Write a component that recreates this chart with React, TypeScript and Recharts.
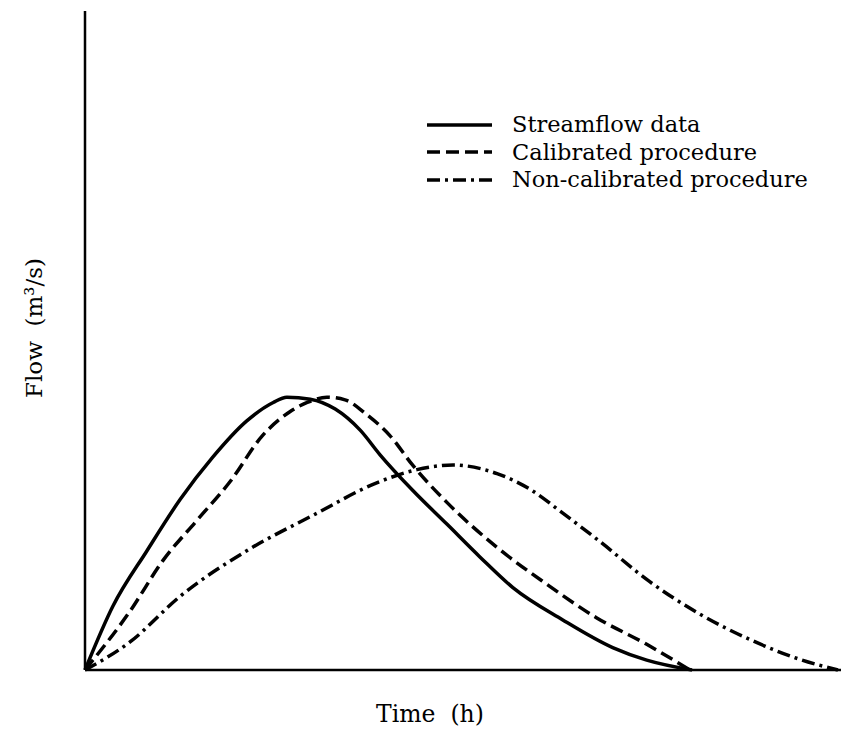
import React from 'react'
import { LineChart, Line, XAxis, YAxis } from 'recharts'

// time in % of axis length, flow in % of axis height
const streamflow = [
  { t: 0, q: 0 },
  { t: 3.7, q: 9.7 },
  { t: 8.2, q: 18.1 },
  { t: 12.6, q: 25.9 },
  { t: 16.9, q: 32.3 },
  { t: 21.4, q: 37.8 },
  { t: 24.9, q: 40.6 },
  { t: 26.7, q: 41.4 },
  { t: 29.8, q: 41.1 },
  { t: 33.1, q: 39.6 },
  { t: 36.4, q: 36.4 },
  { t: 39.0, q: 32.7 },
  { t: 43.4, q: 27.2 },
  { t: 47.9, q: 22.1 },
  { t: 52.2, q: 17.2 },
  { t: 56.6, q: 12.5 },
  { t: 63.2, q: 7.6 },
  { t: 69.8, q: 3.4 },
  { t: 74.3, q: 1.5 },
  { t: 80.3, q: 0 }
]

const calibrated = [
  { t: 0, q: 0 },
  { t: 6.0, q: 9.0 },
  { t: 10.3, q: 16.6 },
  { t: 14.8, q: 22.7 },
  { t: 19.2, q: 28.6 },
  { t: 23.5, q: 35.6 },
  { t: 27.1, q: 39.2 },
  { t: 29.4, q: 40.6 },
  { t: 32.0, q: 41.4 },
  { t: 34.4, q: 41.0 },
  { t: 37.0, q: 39.0 },
  { t: 40.3, q: 35.6 },
  { t: 43.4, q: 31.0 },
  { t: 47.9, q: 25.4 },
  { t: 54.5, q: 18.6 },
  { t: 61.1, q: 13.0 },
  { t: 67.7, q: 7.9 },
  { t: 74.3, q: 3.9 },
  { t: 80.0, q: 0 }
]

const nonCalibrated = [
  { t: 0, q: 0 },
  { t: 6.0, q: 4.3 },
  { t: 12.6, q: 11.2 },
  { t: 21.4, q: 18.1 },
  { t: 30.2, q: 23.5 },
  { t: 39.0, q: 28.6 },
  { t: 43.9, q: 30.4 },
  { t: 48.7, q: 31.1 },
  { t: 54.5, q: 29.8 },
  { t: 58.9, q: 27.4 },
  { t: 63.2, q: 23.8 },
  { t: 68.1, q: 19.5 },
  { t: 74.7, q: 13.4 },
  { t: 81.3, q: 8.5 },
  { t: 88.0, q: 4.6 },
  { t: 94.6, q: 1.6 },
  { t: 99.6, q: 0 }
]

const series = [
  { name: 'Streamflow data', data: streamflow, dash: undefined },
  { name: 'Calibrated procedure', data: calibrated, dash: '13 6' },
  { name: 'Non-calibrated procedure', data: nonCalibrated, dash: '13 5 3 5' }
]

const font = '"DejaVu Serif", serif'

function LegendBox() {
  return (
    <div style={{ position: 'absolute', left: 427, top: 111, fontFamily: font, fontSize: 22.5, color: '#000', lineHeight: '27px' }}>
      {series.map((s) => (
        <div key={s.name} style={{ display: 'flex', alignItems: 'center', height: 27.5 }}>
          <svg width={65} height={10} style={{ marginRight: 20 }}>
            <line x1={0} y1={5} x2={65} y2={5} stroke="#000" strokeWidth={3.5} strokeDasharray={s.dash} />
          </svg>
          <span>{s.name}</span>
        </div>
      ))}
    </div>
  )
}

export default function App() {
  return (
    <div style={{ position: 'absolute', left: 0, top: 0, width: 841, height: 754, background: '#fff' }}>
      <LineChart width={841} height={754} margin={{ top: 11, right: 0, bottom: 83, left: 84 }}>
        <XAxis
          type="number"
          dataKey="t"
          domain={[0, 100]}
          tick={false}
          tickLine={false}
          height={1}
          axisLine={{ stroke: '#000', strokeWidth: 2.5 }}
          label={{
            content: () => (
              <text x={430} y={722} textAnchor="middle" fontSize={23.5} fontFamily={font} fill="#000" style={{ whiteSpace: 'pre' }}>
                Time  (h)
              </text>
            )
          }}
        />
        <YAxis
          type="number"
          dataKey="q"
          domain={[0, 100]}
          tick={false}
          tickLine={false}
          width={1}
          axisLine={{ stroke: '#000', strokeWidth: 2.5 }}
          label={{
            content: () => (
              <text x={0} y={0} transform="translate(42, 328) rotate(-90)" textAnchor="middle" fontSize={23} fontFamily={font} fill="#000" style={{ whiteSpace: 'pre' }}>
                Flow  (m³/s)
              </text>
            )
          }}
        />
        {series.map((s) => (
          <Line
            key={s.name}
            data={s.data}
            dataKey="q"
            name={s.name}
            type="monotone"
            stroke="#000"
            strokeWidth={3.5}
            strokeDasharray={s.dash}
            dot={false}
            activeDot={false}
            isAnimationActive={false}
          />
        ))}
      </LineChart>
      <LegendBox />
    </div>
  )
}
